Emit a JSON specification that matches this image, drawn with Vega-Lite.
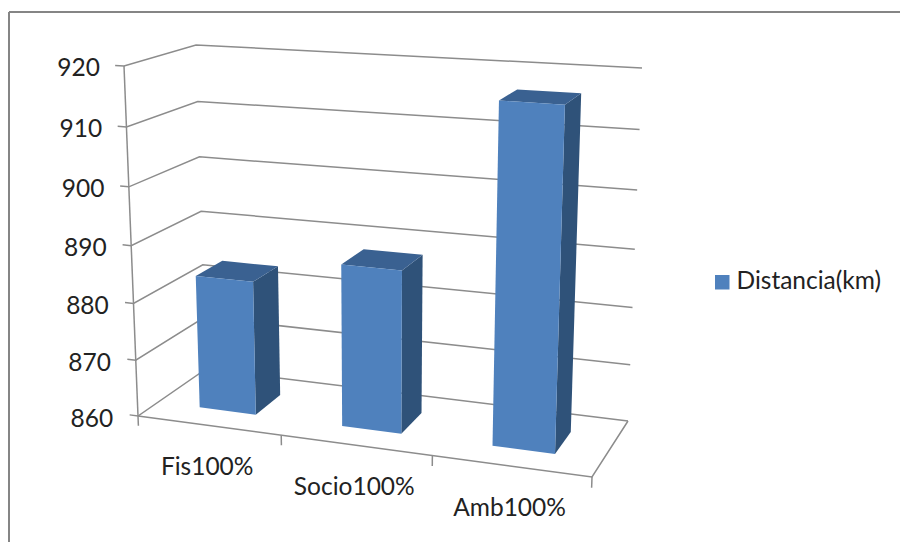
{
"$schema":"https://vega.github.io/schema/vega-lite/v6.json",
"width":900,"height":542,"padding":0,"autosize":{"type":"none"},
"background":"white",
"config":{"view":{"stroke":null},"text":{"font":"Lato"}},
"datasets":{
"bars":[
{"category":"Fis100%","pos":0,"value":883.6,"series":"Distancia(km)"},
{"category":"Socio100%","pos":1,"value":888.1,"series":"Distancia(km)"},
{"category":"Amb100%","pos":2,"value":916.9,"series":"Distancia(km)"}],
"ticks":[{"value":860},{"value":870},{"value":880},{"value":890},{"value":900},{"value":910},{"value":920}]
},
"layer":[
{"data":{"values":[{"edge":"left"}]},"mark":{"type":"rule","color":"#858585","strokeWidth":2},
 "encoding":{"x":{"datum":9,"type":"quantitative","scale":{"domain":[0,900],"range":[0,900]},"axis":null},"y":{"datum":929.5,"type":"quantitative","scale":{"domain":[860,920],"range":[417.5,67.5]},"axis":null},"y2":{"datum":838}}},
{"data":{"values":[{"edge":"top"}]},"mark":{"type":"rule","color":"#858585","strokeWidth":2},
 "encoding":{"x":{"datum":9,"type":"quantitative"},"x2":{"datum":900},"y":{"datum":929.5,"type":"quantitative"}}},
{"data":{"name":"ticks"},
 "transform":[
 {"calculate":"(datum.value-860)/60","as":"w0"},
 {"calculate":"0.948*datum.w0/(1-0.052*datum.w0)","as":"w"},
 {"calculate":"100+(920-datum.value)*0.22","as":"sx"},
 {"calculate":"860+(417.5-(419.5-350*datum.w))/5.8333","as":"sy"}
 ],
 "mark":{"type":"text","font":"Lato","fontSize":24.5,"color":"#222222","align":"right","baseline":"middle"},
 "encoding":{"x":{"field":"sx","type":"quantitative"},"y":{"field":"sy","type":"quantitative"},"text":{"field":"value","type":"quantitative"}}},
{"data":{"name":"ticks"},
 "transform":[
 {"calculate":"(datum.value-860)/60","as":"w0"},
 {"calculate":"0.948*datum.w0/(1-0.052*datum.w0)","as":"w"},
 {"calculate":"[{i:0,u:-0.02,d:0},{i:1,u:0,d:0},{i:2,u:0,d:1},{i:3,u:1,d:1}]","as":"v"},
 {"flatten":["v"]},
 {"calculate":"0.922*datum.v.u/(1-0.078*datum.v.u)","as":"up"},
 {"calculate":"(1-datum.v.d)*((1-datum.up)*((1-datum.w)*138+datum.w*124)+datum.up*((1-datum.w)*592+datum.w*605))+datum.v.d*((1-datum.up)*((1-datum.w)*206+datum.w*196)+datum.up*((1-datum.w)*628+datum.w*642))","as":"sx"},
 {"calculate":"860+(417.5-((1-datum.v.d)*((1-datum.up)*((1-datum.w)*416+datum.w*66)+datum.up*((1-datum.w)*477+datum.w*96))+datum.v.d*((1-datum.up)*((1-datum.w)*369+datum.w*45)+datum.up*((1-datum.w)*421+datum.w*68))))/5.8333","as":"sy"}
 ],
 "mark":{"type":"line","color":"#8c8c8c","strokeWidth":1.5},
 "encoding":{"x":{"field":"sx","type":"quantitative"},"y":{"field":"sy","type":"quantitative"},"detail":{"field":"value"},"order":{"field":"v.i"}}},
{"data":{"name":"ticks"},
 "transform":[
 {"filter":"datum.value==860"},
 {"calculate":"[{k:0,i:0,u:0,d:0,w:-0.028},{k:0,i:1,u:0,d:0,w:1},{k:1,i:0,u:0,d:0,w:0},{k:1,i:1,u:1,d:0,w:0},{k:1,i:2,u:1,d:1,w:0},{k:2,i:0,u:1,d:0,w:0},{k:2,i:1,u:1,d:0,w:-0.028},{k:3,i:0,u:0.3333,d:0,w:0},{k:3,i:1,u:0.3333,d:0,w:-0.028},{k:4,i:0,u:0.6667,d:0,w:0},{k:4,i:1,u:0.6667,d:0,w:-0.028}]","as":"v"},
 {"flatten":["v"]},
 {"calculate":"datum.v.w","as":"w"},
 {"calculate":"0.922*datum.v.u/(1-0.078*datum.v.u)","as":"up"},
 {"calculate":"(1-datum.v.d)*((1-datum.up)*((1-datum.w)*138+datum.w*124)+datum.up*((1-datum.w)*592+datum.w*605))+datum.v.d*((1-datum.up)*((1-datum.w)*206+datum.w*196)+datum.up*((1-datum.w)*628+datum.w*642))","as":"sx"},
 {"calculate":"860+(417.5-((1-datum.v.d)*((1-datum.up)*((1-datum.w)*416+datum.w*66)+datum.up*((1-datum.w)*477+datum.w*96))+datum.v.d*((1-datum.up)*((1-datum.w)*369+datum.w*45)+datum.up*((1-datum.w)*421+datum.w*68))))/5.8333","as":"sy"}
 ],
 "mark":{"type":"line","color":"#8c8c8c","strokeWidth":1.5},
 "encoding":{"x":{"field":"sx","type":"quantitative"},"y":{"field":"sy","type":"quantitative"},"detail":{"field":"v.k"},"order":{"field":"v.i"}}},
{"data":{"name":"bars"},
 "transform":[
 {"calculate":"(datum.value-860)/60","as":"w0"},
 {"calculate":"0.948*datum.w0/(1-0.052*datum.w0)","as":"wt"},
 {"calculate":"(datum.pos+0.3)/3","as":"u0"},
 {"calculate":"(datum.pos+0.7)/3","as":"u1"},
 {"calculate":"[{f:'front',i:0,u:datum.u0,d:0.3,w:0},{f:'front',i:1,u:datum.u1,d:0.3,w:0},{f:'front',i:2,u:datum.u1,d:0.3,w:datum.wt},{f:'front',i:3,u:datum.u0,d:0.3,w:datum.wt},{f:'side',i:0,u:datum.u1,d:0.3,w:0},{f:'side',i:1,u:datum.u1,d:0.7,w:0},{f:'side',i:2,u:datum.u1,d:0.7,w:datum.wt},{f:'side',i:3,u:datum.u1,d:0.3,w:datum.wt},{f:'top',i:0,u:datum.u0,d:0.3,w:datum.wt},{f:'top',i:1,u:datum.u1,d:0.3,w:datum.wt},{f:'top',i:2,u:datum.u1,d:0.7,w:datum.wt},{f:'top',i:3,u:datum.u0,d:0.7,w:datum.wt}]","as":"v"},
 {"flatten":["v"]},
 {"calculate":"datum.v.w","as":"w"},
 {"calculate":"datum.v.f","as":"face"},
 {"calculate":"0.922*datum.v.u/(1-0.078*datum.v.u)","as":"up"},
 {"calculate":"(1-datum.v.d)*((1-datum.up)*((1-datum.w)*138+datum.w*124)+datum.up*((1-datum.w)*592+datum.w*605))+datum.v.d*((1-datum.up)*((1-datum.w)*206+datum.w*196)+datum.up*((1-datum.w)*628+datum.w*642))","as":"sx"},
 {"calculate":"860+(417.5-((1-datum.v.d)*((1-datum.up)*((1-datum.w)*416+datum.w*66)+datum.up*((1-datum.w)*477+datum.w*96))+datum.v.d*((1-datum.up)*((1-datum.w)*369+datum.w*45)+datum.up*((1-datum.w)*421+datum.w*68))))/5.8333","as":"sy"}
 ],
 "layer":[
 {"transform":[{"filter":"datum.face=='side'"}],"mark":{"type":"line","filled":true,"color":"#2f5279","stroke":null},
  "encoding":{"x":{"field":"sx","type":"quantitative"},"y":{"field":"sy","type":"quantitative"},"detail":{"field":"category"},"order":{"field":"v.i"}}},
 {"transform":[{"filter":"datum.face=='top'"}],"mark":{"type":"line","filled":true,"color":"#3a6191","stroke":null},
  "encoding":{"x":{"field":"sx","type":"quantitative"},"y":{"field":"sy","type":"quantitative"},"detail":{"field":"category"},"order":{"field":"v.i"}}},
 {"transform":[{"filter":"datum.face=='front'"}],"mark":{"type":"line","filled":true,"stroke":null},
  "encoding":{"x":{"field":"sx","type":"quantitative"},"y":{"field":"sy","type":"quantitative"},"detail":{"field":"category"},"order":{"field":"v.i"},
  "color":{"field":"series","type":"nominal","scale":{"range":["#4f81bd"]},"legend":{"title":null,"orient":"none","legendX":710,"legendY":270,"symbolType":"square","symbolSize":210,"symbolStrokeWidth":0,"labelFont":"Lato","labelFontSize":24.5,"labelColor":"#222222","labelOffset":2,"padding":0}}}}
 ]},
{"data":{"name":"bars"},
 "transform":[
 {"calculate":"(datum.pos+0.5)/3","as":"u"},
 {"calculate":"0.922*datum.u/(1-0.078*datum.u)","as":"up"},
 {"calculate":"(1-datum.up)*138+datum.up*592","as":"sx"},
 {"calculate":"860+(417.5-((1-datum.up)*416+datum.up*477))/5.8333","as":"sy"}
 ],
 "mark":{"type":"text","font":"Lato","fontSize":24.5,"color":"#222222","dy":43,"dx":-1.5,"align":"center","baseline":"middle"},
 "encoding":{"x":{"field":"sx","type":"quantitative"},"y":{"field":"sy","type":"quantitative"},"text":{"field":"category"}}}
]
}
